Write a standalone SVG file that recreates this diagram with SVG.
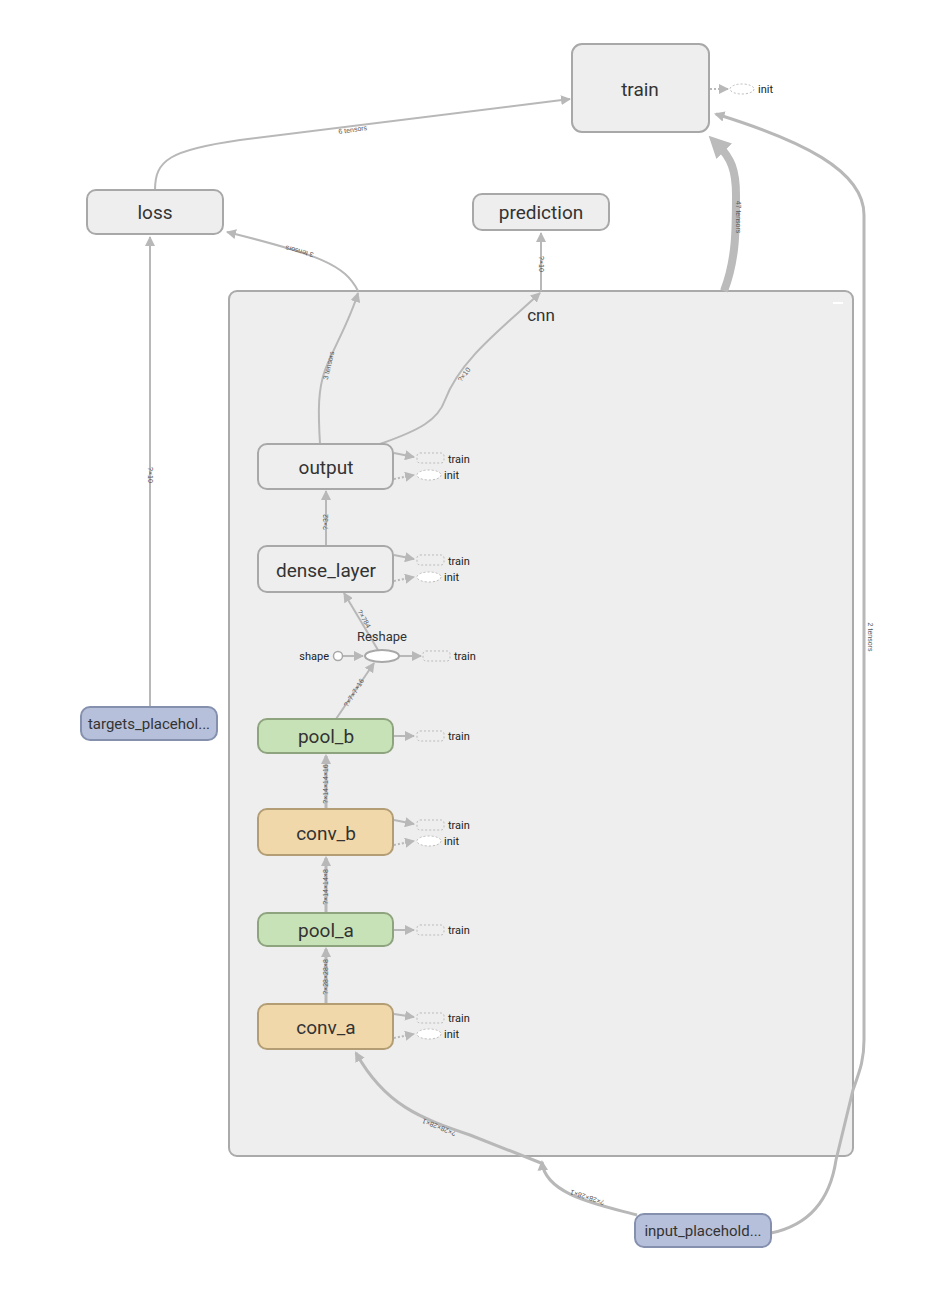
<svg xmlns="http://www.w3.org/2000/svg" width="936" height="1298" viewBox="0 0 936 1298">
<defs>
<marker id="ah" viewBox="0 0 10 10" refX="9" refY="5" markerWidth="5" markerHeight="5" orient="auto" markerUnits="strokeWidth"><path d="M0,0 L10,5 L0,10 z" fill="#b8b8b8"/></marker>
<marker id="ahb" viewBox="0 0 10 10" refX="8" refY="5" markerWidth="3.5" markerHeight="3.5" orient="auto" markerUnits="strokeWidth"><path d="M0,0 L10,5 L0,10 z" fill="#b8b8b8"/></marker>
<marker id="ahT" viewBox="0 0 10 10" refX="4" refY="5" markerWidth="22" markerHeight="22" orient="auto" markerUnits="userSpaceOnUse"><path d="M0,0 L10,5 L0,10 z" fill="#bbb"/></marker>
</defs>
<style>
.nd{fill:#eeeeee;stroke:#a8a8a8;stroke-width:2}
.grn{fill:#c8e2b8;stroke:#8ea47e;stroke-width:2}
.org{fill:#f0d8ab;stroke:#b39d74;stroke-width:2}
.blu{fill:#b7c0da;stroke:#8490ae;stroke-width:2}
.t{font-family:"Roboto","Liberation Sans",sans-serif;fill:#333;text-anchor:middle}
.big{font-size:19px}
.med{font-size:15px}
.sm{font-family:"Roboto","Liberation Sans",sans-serif;font-size:11px;fill:#222}
.lb{font-family:"Liberation Sans",sans-serif;font-size:7px;fill:#555;text-anchor:middle}
.e{fill:none;stroke:#b8b8b8;stroke-width:2}
.e3{fill:none;stroke:#b8b8b8;stroke-width:3}
.ed{fill:none;stroke:#b8b8b8;stroke-width:2;stroke-dasharray:2,2}
.dr{fill:none;stroke:#bbb;stroke-width:1;stroke-dasharray:2,2}
.de{fill:#fff;stroke:#bbb;stroke-width:1;stroke-dasharray:2,2}
</style>
<rect width="936" height="1298" fill="#fff"/>

<g id="cnn">
<rect x="229" y="291" width="624" height="865" rx="8" fill="#eeeeee" stroke="#aaaaaa" stroke-width="2"/>
<text x="541" y="321" class="t" font-size="17">cnn</text>
<line x1="833" y1="303" x2="843" y2="303" stroke="#fff" stroke-width="2"/>
</g>

<g id="connectors">
<path class="e" d="M155,190 C155,160 170,150 240,140 L570,99" marker-end="url(#ah)"/>
<text class="lb" transform="translate(353,132) rotate(-8)">6 tensors</text>
<path class="e" d="M358,291 C345,265 320,255 227,232" marker-end="url(#ah)"/>
<text class="lb" transform="translate(300,249) rotate(-165)">3 tensors</text>
<path class="e" d="M541,291 L541,233" marker-end="url(#ah)"/>
<text class="lb" transform="translate(539,264) rotate(90)">?×10</text>
<path d="M724,291 C736,260 736,230 736,195 C736,170 731,158 718,145" fill="none" stroke="#bbb" stroke-width="8" marker-end="url(#ahT)"/>
<text class="lb" transform="translate(736,217) rotate(90)">47 tensors</text>
<path class="e3" d="M771,1233 C810,1225 830,1200 836,1160 L853,1090 C860,1070 864,1060 864,1040 L864,215 C864,170 800,140 716,114" marker-end="url(#ahb)"/>
<text class="lb" transform="translate(868,637) rotate(90)">2 tensors</text>
<path class="e3" d="M637,1215 C600,1205 545,1195 542,1162" marker-end="url(#ahb)"/>
<text class="lb" transform="translate(588,1195) rotate(-162)">?×28×28×1</text>
<path class="e3" d="M541,1163 L470,1135 C420,1118 385,1105 356,1053" marker-end="url(#ahb)"/>
<text class="lb" transform="translate(440,1125) rotate(-158)">?×28×28×1</text>
<path class="e" d="M150,707 L150,237" marker-end="url(#ah)"/>
<text class="lb" transform="translate(148,475) rotate(90)">?×10</text>

<path class="e" d="M320,444 C318,410 318,390 325,370 C335,345 350,320 358,293" marker-end="url(#ah)"/>
<text class="lb" transform="translate(331,366) rotate(-77)">3 tensors</text>
<path class="e" d="M380,444 C420,430 438,420 445,400 C460,360 500,330 540,293" marker-end="url(#ah)"/>
<text class="lb" transform="translate(466,376) rotate(-52)">?×10</text>

<path class="e" d="M326,546 L326,491" marker-end="url(#ah)"/>
<text class="lb" transform="translate(328,522) rotate(-90)">?×32</text>
<path class="e" d="M378,650 L344,593" marker-end="url(#ah)"/>
<text class="lb" transform="translate(362,620) rotate(60)">?×784</text>
<path class="e" d="M336,719 L374,663" marker-end="url(#ah)"/>
<text class="lb" transform="translate(356,694) rotate(-58)">?×7×7×16</text>
<path class="e3" d="M326,809 L326,756" marker-end="url(#ahb)"/>
<text class="lb" transform="translate(328,784) rotate(-90)">?×14×14×16</text>
<path class="e3" d="M326,913 L326,858" marker-end="url(#ahb)"/>
<text class="lb" transform="translate(328,887) rotate(-90)">?×14×14×8</text>
<path class="e3" d="M326,1004 L326,949" marker-end="url(#ahb)"/>
<text class="lb" transform="translate(328,977) rotate(-90)">?×28×28×8</text>

<path class="e" d="M343,656 L363,656" marker-end="url(#ah)"/>
<path class="e" d="M399,656 L421,656" marker-end="url(#ah)"/>
<path class="ed" d="M710,89 L728,89" marker-end="url(#ah)"/>
</g>

<g id="train">
<rect x="572" y="44" width="137" height="88" rx="10" class="nd"/>
<text x="640" y="96" class="t big">train</text>
<ellipse cx="742" cy="89" rx="12" ry="5" class="de"/>
<text x="758" y="93" class="sm">init</text>
</g>
<g id="loss">
<rect x="87" y="190" width="136" height="44" rx="9" class="nd"/>
<text x="155" y="219" class="t big">loss</text>
</g>
<g id="prediction">
<rect x="473" y="194" width="136" height="36" rx="9" class="nd"/>
<text x="541" y="219" class="t big">prediction</text>
</g>
<g id="targets_placeholder">
<rect x="81" y="707" width="136" height="33" rx="9" class="blu"/>
<text x="149" y="729" class="t med">targets_placehol...</text>
</g>
<g id="input_placeholder">
<rect x="635" y="1214" width="136" height="33" rx="9" class="blu"/>
<text x="703" y="1236" class="t med">input_placehold...</text>
</g>

<g id="output">
<rect x="258" y="444" width="135" height="45" rx="9" class="nd"/>
<text x="326" y="474" class="t big">output</text>
<path class="e" d="M394,453 L414,457" marker-end="url(#ah)"/>
<path class="ed" d="M394,479 L414,475" marker-end="url(#ah)"/>
<rect x="417" y="453" width="27" height="10" rx="3" class="dr"/>
<ellipse cx="429" cy="475" rx="12" ry="5" class="de"/>
<text x="448" y="463" class="sm">train</text>
<text x="444" y="479" class="sm">init</text>
</g>
<g id="dense_layer">
<rect x="258" y="546" width="135" height="46" rx="9" class="nd"/>
<text x="326" y="577" class="t big">dense_layer</text>
<path class="e" d="M394,555 L414,559" marker-end="url(#ah)"/>
<path class="ed" d="M394,581 L414,577" marker-end="url(#ah)"/>
<rect x="417" y="555" width="27" height="10" rx="3" class="dr"/>
<ellipse cx="429" cy="577" rx="12" ry="5" class="de"/>
<text x="448" y="565" class="sm">train</text>
<text x="444" y="581" class="sm">init</text>
</g>
<g id="Reshape">
<ellipse cx="382" cy="656" rx="17" ry="6" fill="#fff" stroke="#a8a8a8" stroke-width="2"/>
<text x="382" y="641" class="t" font-size="13">Reshape</text>
<circle cx="338" cy="656" r="4.5" fill="#fff" stroke="#a8a8a8" stroke-width="1.5"/>
<text x="329" y="660" class="sm" text-anchor="end">shape</text>
<rect x="423" y="651" width="27" height="10" rx="3" class="dr"/>
<text x="454" y="660" class="sm">train</text>
</g>
<g id="pool_b">
<rect x="258" y="719" width="135" height="34" rx="9" class="grn"/>
<text x="326" y="743" class="t big">pool_b</text>
<path class="e" d="M394,736 L414,736" marker-end="url(#ah)"/>
<rect x="417" y="731" width="27" height="10" rx="3" class="dr"/>
<text x="448" y="740" class="sm">train</text>
</g>
<g id="conv_b">
<rect x="258" y="809" width="135" height="46" rx="9" class="org"/>
<text x="326" y="840" class="t big">conv_b</text>
<path class="e" d="M394,820 L414,824" marker-end="url(#ah)"/>
<path class="ed" d="M394,845 L414,841" marker-end="url(#ah)"/>
<rect x="417" y="820" width="27" height="10" rx="3" class="dr"/>
<ellipse cx="429" cy="841" rx="12" ry="5" class="de"/>
<text x="448" y="829" class="sm">train</text>
<text x="444" y="845" class="sm">init</text>
</g>
<g id="pool_a">
<rect x="258" y="913" width="135" height="33" rx="9" class="grn"/>
<text x="326" y="937" class="t big">pool_a</text>
<path class="e" d="M394,930 L414,930" marker-end="url(#ah)"/>
<rect x="417" y="925" width="27" height="10" rx="3" class="dr"/>
<text x="448" y="934" class="sm">train</text>
</g>
<g id="conv_a">
<rect x="258" y="1004" width="135" height="45" rx="9" class="org"/>
<text x="326" y="1034" class="t big">conv_a</text>
<path class="e" d="M394,1014 L414,1017" marker-end="url(#ah)"/>
<path class="ed" d="M394,1038 L414,1034" marker-end="url(#ah)"/>
<rect x="417" y="1013" width="27" height="10" rx="3" class="dr"/>
<ellipse cx="429" cy="1034" rx="12" ry="5" class="de"/>
<text x="448" y="1022" class="sm">train</text>
<text x="444" y="1038" class="sm">init</text>
</g>
</svg>
